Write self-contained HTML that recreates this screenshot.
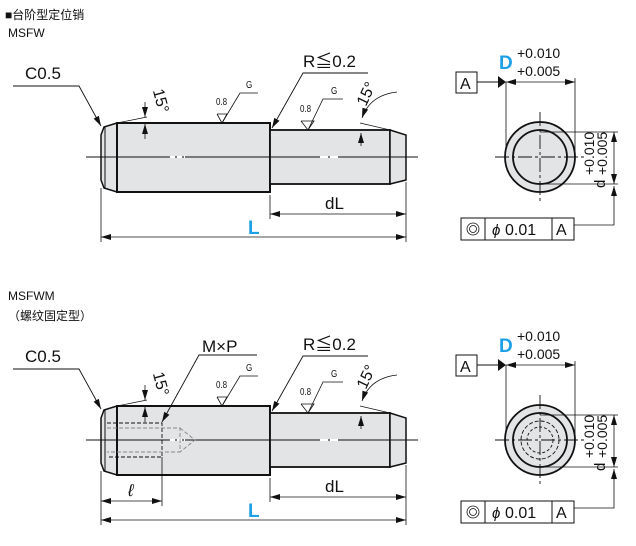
<!DOCTYPE html>
<html><head><meta charset="utf-8"><style>
html,body{margin:0;padding:0;background:#fff}
svg{display:block}
text{font-family:"Liberation Sans","Noto Sans CJK SC",sans-serif;fill:#111}
</style></head><body>
<svg width="636" height="546" viewBox="0 0 636 546" xmlns="http://www.w3.org/2000/svg">
<defs>
<marker id="ar" viewBox="0 0 10 6" refX="10" refY="3" markerWidth="10" markerHeight="6" orient="auto-start-reverse" markerUnits="userSpaceOnUse"><path d="M0,0 L10,3 L0,6 z" fill="#111"/></marker>
<g id="pin">
  <polygon points="117,123 104,127 101,135 101,180 104,188 117,192" fill="#e3e4e6" stroke="#111" stroke-width="1.5"/>
  <line x1="105" y1="127" x2="105" y2="188" stroke="#111" stroke-width="1"/>
  <rect x="117" y="123" width="153" height="69" fill="#e3e4e6" stroke="#111" stroke-width="2"/>
  <rect x="270" y="130" width="120" height="54" fill="#e3e4e6" stroke="#111" stroke-width="1.8"/>
  <polygon points="390,130 406,135 406,180 390,184" fill="#e3e4e6" stroke="#111" stroke-width="1.5"/>
  <line x1="86" y1="157" x2="418" y2="157" stroke="#111" stroke-width="1"/>
  <line x1="170" y1="157" x2="185" y2="157" stroke="#fff" stroke-width="2" stroke-dasharray="5,2"/>
  <line x1="320" y1="157" x2="340" y2="157" stroke="#fff" stroke-width="2" stroke-dasharray="8,2"/>
  <!-- C0.5 -->
  <text x="25" y="79" font-size="17">C0.5</text>
  <polyline points="13,86 79,86 101,126" fill="none" stroke="#111" stroke-width="0.9" marker-end="url(#ar)"/>
  <!-- R -->
  <text x="303" y="67" font-size="17">R≦0.2</text>
  <polyline points="368,73 303,73 272,128" fill="none" stroke="#111" stroke-width="0.9" marker-end="url(#ar)"/>
  <!-- surface G1 -->
  <text x="216" y="105" font-size="10" transform="scale(0.8,1)" style="transform-origin:216px 105px">0.8</text>
  <polyline points="217,114 227,114 222,123 217,114" fill="none" stroke="#111" stroke-width="0.8"/>
  <polyline points="222,123 240,93 258,93" fill="none" stroke="#111" stroke-width="0.8"/>
  <text x="246" y="88" font-size="10" transform="scale(0.8,1)" style="transform-origin:246px 88px">G</text>
  <!-- surface G2 -->
  <text x="300" y="112" font-size="10" transform="scale(0.8,1)" style="transform-origin:300px 112px">0.8</text>
  <polyline points="301,121 314,121 308,130 301,121" fill="none" stroke="#111" stroke-width="0.8"/>
  <polyline points="308,130 323,99 343,99" fill="none" stroke="#111" stroke-width="0.8"/>
  <text x="331" y="94" font-size="10" transform="scale(0.8,1)" style="transform-origin:331px 94px">G</text>
  <!-- 15 deg left -->
  <line x1="117" y1="123" x2="147" y2="117" stroke="#111" stroke-width="0.7"/>
  <line x1="145" y1="102" x2="145" y2="117" stroke="#111" stroke-width="0.8" marker-end="url(#ar)"/>
  <line x1="145" y1="139" x2="145" y2="124" stroke="#111" stroke-width="0.8" marker-end="url(#ar)"/>
  <text x="140" y="93" font-size="16" transform="rotate(75 148 100)">15°</text>
  <!-- 15 deg right -->
  <line x1="360" y1="123" x2="390" y2="130" stroke="#111" stroke-width="0.7"/>
  <path d="M397,92 Q370,95 362,118" fill="none" stroke="#111" stroke-width="0.8" marker-end="url(#ar)"/>
  <line x1="361" y1="146" x2="361" y2="133" stroke="#111" stroke-width="0.8" marker-end="url(#ar)"/>
  <text x="350" y="98" font-size="16" transform="rotate(-65 365 90)">15°</text>
  <!-- dims -->
  <line x1="101" y1="188" x2="101" y2="242" stroke="#111" stroke-width="0.8"/>
  <line x1="406" y1="182" x2="406" y2="242" stroke="#111" stroke-width="0.8"/>
  <line x1="270" y1="195" x2="270" y2="219" stroke="#111" stroke-width="0.8"/>
  <line x1="270" y1="214" x2="406" y2="214" stroke="#111" stroke-width="0.8" marker-start="url(#ar)" marker-end="url(#ar)"/>
  <text x="325" y="209" font-size="17">dL</text>
  <line x1="101" y1="237" x2="406" y2="237" stroke="#111" stroke-width="0.8" marker-start="url(#ar)" marker-end="url(#ar)"/>
  <text x="248" y="234" font-size="19" font-weight="bold" style="fill:#1ea0e6">L</text>
</g>
<g id="end">
  <rect x="456" y="72" width="21" height="21" fill="#fff" stroke="#111" stroke-width="1"/>
  <text x="460" y="89" font-size="16">A</text>
  <line x1="477" y1="82" x2="500" y2="82" stroke="#111" stroke-width="0.9"/>
  <polygon points="498,76 498,88 506,82" fill="#111"/>
  <text x="499" y="69" font-size="19" font-weight="bold" style="fill:#1ea0e6">D</text>
  <text x="517" y="58" font-size="14">+0.010</text>
  <text x="517" y="76" font-size="14">+0.005</text>
  <line x1="506" y1="82" x2="575" y2="82" stroke="#111" stroke-width="0.8" marker-start="url(#ar)" marker-end="url(#ar)"/>
  <line x1="506" y1="82" x2="506" y2="160" stroke="#111" stroke-width="0.8"/>
  <line x1="575" y1="78" x2="575" y2="160" stroke="#111" stroke-width="0.8"/>
  <circle cx="540" cy="157" r="35" fill="#e3e4e6" stroke="#111" stroke-width="1.8"/>
  <circle cx="540" cy="157" r="27" fill="#e3e4e6" stroke="#111" stroke-width="1.8"/>
  <line x1="495" y1="157" x2="586" y2="157" stroke="#111" stroke-width="0.9" stroke-dasharray="14,3,3,3"/>
  <line x1="540" y1="112" x2="540" y2="203" stroke="#111" stroke-width="0.9" stroke-dasharray="14,3,3,3"/>
  <line x1="540" y1="132" x2="618" y2="132" stroke="#111" stroke-width="0.8"/>
  <line x1="540" y1="184" x2="618" y2="184" stroke="#111" stroke-width="0.8"/>
  <line x1="614" y1="160" x2="614" y2="132" stroke="#111" stroke-width="0.8" marker-end="url(#ar)"/>
  <line x1="614" y1="160" x2="614" y2="184" stroke="#111" stroke-width="0.8" marker-end="url(#ar)"/>
  <polyline points="614,196 614,225 573,225" fill="none" stroke="#111" stroke-width="0.8"/>
  <line x1="614" y1="197" x2="614" y2="186" stroke="#111" stroke-width="0.8" marker-end="url(#ar)"/>
  <text font-size="15" transform="translate(605 188) rotate(-90)">d</text>
  <text font-size="14" transform="translate(594 175) rotate(-90)">+0.010</text>
  <text font-size="14" transform="translate(607 175) rotate(-90)">+0.005</text>
  <rect x="461" y="218" width="113" height="22" fill="#fff" stroke="#111" stroke-width="1"/>
  <line x1="485" y1="218" x2="485" y2="240" stroke="#111" stroke-width="1"/>
  <line x1="552" y1="218" x2="552" y2="240" stroke="#111" stroke-width="1"/>
  <circle cx="473" cy="229" r="6" fill="none" stroke="#111" stroke-width="0.8"/>
  <circle cx="473" cy="229" r="3.5" fill="none" stroke="#111" stroke-width="0.8"/>
  <text x="492" y="235" font-size="15" font-style="italic">ϕ</text>
  <text x="505" y="235" font-size="16">0.01</text>
  <text x="556" y="235" font-size="16">A</text>
</g>
</defs>
<text x="5" y="19" font-size="12">■台阶型定位销</text>
<text x="8" y="37" font-size="12">MSFW</text>
<use href="#pin"/>
<use href="#end"/>
<text x="8" y="300" font-size="12">MSFWM</text>
<text x="8" y="320" font-size="12">（螺纹固定型）</text>
<g transform="translate(0 283)"><use href="#end"/>
<circle cx="540" cy="157" r="19" fill="none" stroke="#111" stroke-width="0.9" stroke-dasharray="4,2"/>
<circle cx="540" cy="157" r="13" fill="none" stroke="#111" stroke-width="0.9" stroke-dasharray="3,2"/>
</g>
<g transform="translate(0 283)">
<use href="#pin"/>
<!-- thread -->
<polyline points="107,140 162,140 162,174 107,174" fill="none" stroke="#111" stroke-width="0.9" stroke-dasharray="4,2"/>
<polyline points="107,145 180,145 180,169 107,169" fill="none" stroke="#888" stroke-width="0.9" stroke-dasharray="4,2"/>
<polyline points="180,145 195,157 180,169" fill="none" stroke="#888" stroke-width="0.9" stroke-dasharray="4,2"/>
<line x1="162" y1="174" x2="162" y2="223" stroke="#111" stroke-width="0.8"/>
<line x1="101" y1="218" x2="162" y2="218" stroke="#111" stroke-width="0.8" marker-start="url(#ar)" marker-end="url(#ar)"/>
<text x="128" y="213" font-size="17" font-style="italic">ℓ</text>
<text x="202" y="69" font-size="17">M×P</text>
<polyline points="257,72 199,72 162,139" fill="none" stroke="#111" stroke-width="0.9" marker-end="url(#ar)"/>
</g>
</svg>
</body></html>
